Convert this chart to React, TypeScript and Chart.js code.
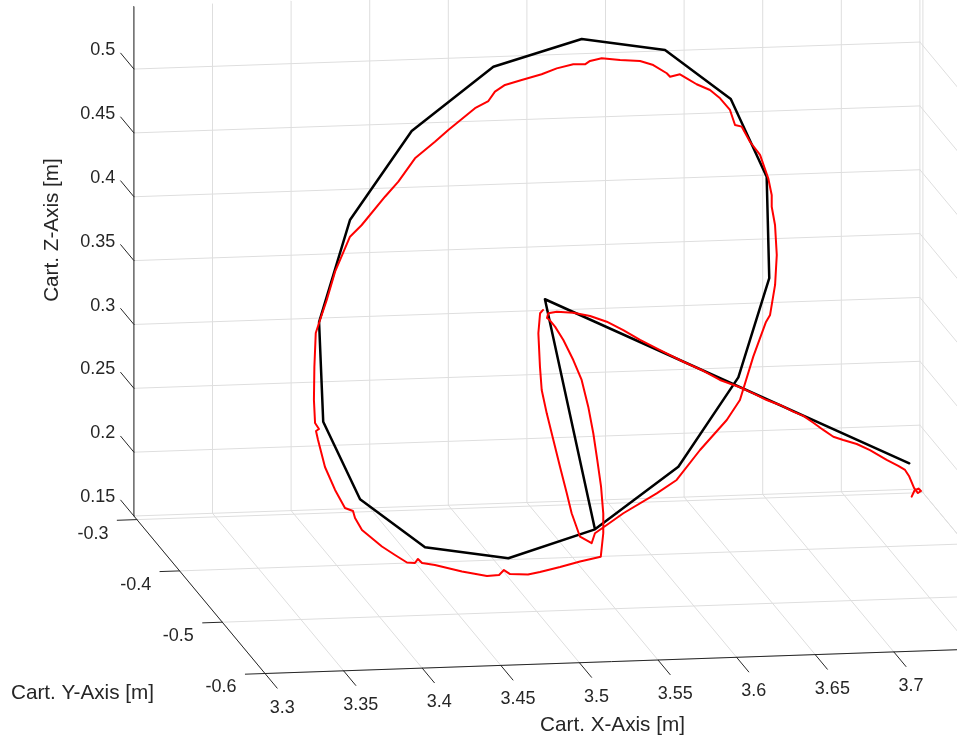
import React, { useEffect, useRef } from "react";
import { Chart, registerables } from "chart.js";

Chart.register(...registerables);

// ---- Axis limits and ticks (data units, metres) ----
const X_LIMITS = [3.3, 3.8];
const Y_LIMITS = [-0.6, -0.293];
const Z_LIMITS = [0.15, 0.549];

const X_TICKS = [3.3, 3.35, 3.4, 3.45, 3.5, 3.55, 3.6, 3.65, 3.7, 3.75, 3.8];
const X_TICK_LABELS = ["3.3", "3.35", "3.4", "3.45", "3.5", "3.55", "3.6", "3.65", "3.7", "3.75", "3.8"];
const Y_TICKS = [-0.6, -0.5, -0.4, -0.3];
const Y_TICK_LABELS = ["-0.6", "-0.5", "-0.4", "-0.3"];
const Z_TICKS = [0.15, 0.2, 0.25, 0.3, 0.35, 0.4, 0.45, 0.5];
const Z_TICK_LABELS = ["0.15", "0.2", "0.25", "0.3", "0.35", "0.4", "0.45", "0.5"];

const X_TITLE = "Cart. X-Axis [m]";
const Y_TITLE = "Cart. Y-Axis [m]";
const Z_TITLE = "Cart. Z-Axis [m]";

// ---- Reference path (black) ----
const REF_X = [3.7506, 3.5324, 3.5452, 3.4874, 3.4371, 3.3985, 3.3805, 3.3860, 3.4138, 3.4585, 3.5159, 3.5748, 3.6278, 3.6642, 3.6816, 3.6751, 3.6500, 3.6037, 3.5452, 3.5324];
const REF_Y = [-0.45, -0.40, -0.47, -0.48, -0.47, -0.46, -0.44, -0.41, -0.38, -0.36, -0.34, -0.33, -0.33, -0.35, -0.37, -0.40, -0.42, -0.45, -0.47, -0.40];
const REF_Z = [0.2353, 0.3529, 0.2003, 0.1841, 0.1908, 0.2260, 0.2795, 0.3453, 0.4119, 0.4717, 0.5116, 0.5268, 0.5159, 0.4841, 0.4305, 0.3635, 0.2948, 0.2388, 0.2003, 0.3529];

// ---- Measured path (red) ----
const MEAS_X = [
  3.7494, 3.7512, 3.7537, 3.7553, 3.7534, 3.7509, 3.7504, 3.7479, 3.7436, 3.7362,
  3.7283, 3.7199, 3.7113, 3.7050, 3.6986, 3.6923, 3.6859, 3.6822, 3.6738, 3.6653,
  3.6568, 3.6483, 3.6356, 3.6277, 3.6150, 3.6002, 3.5902, 3.5795, 3.5690, 3.5584,
  3.5477, 3.5372, 3.5318, 3.5310, 3.5323, 3.5361, 3.5414, 3.5450, 3.5476, 3.5518,
  3.5523, 3.5521, 3.5518, 3.5532, 3.5505, 3.5489, 3.5330, 3.5203, 3.5075, 3.4999,
  3.4885, 3.4846, 3.4815, 3.4738, 3.4579, 3.4407, 3.4325, 3.4299, 3.4280, 3.4229,
  3.4180, 3.4097, 3.3970, 3.3953, 3.3940, 3.3889, 3.3826, 3.3789, 3.3772, 3.3759,
  3.3778, 3.3753, 3.3773, 3.3803, 3.3839, 3.3866, 3.3936, 3.3989, 3.4111, 3.4213,
  3.4388, 3.4473, 3.4606, 3.4733, 3.4818, 3.5015, 3.5100, 3.5169, 3.5233, 3.5339,
  3.5466, 3.5562, 3.5667, 3.5742, 3.5774, 3.5848, 3.5965, 3.6092, 3.6176, 3.6262,
  3.6283, 3.6346, 3.6389, 3.6452, 3.6537, 3.6574, 3.6637, 3.6669, 3.6712, 3.6737,
  3.6801, 3.6826, 3.6848, 3.6821, 3.6842, 3.6826, 3.6788, 3.6729, 3.6703, 3.6595,
  3.6483, 3.6372, 3.6202, 3.6026, 3.5872, 3.5660, 3.5527, 3.5452, 3.5431, 3.5357,
  3.5331, 3.5300, 3.5284, 3.5269, 3.5254, 3.5222, 3.5238, 3.5255, 3.5266, 3.5285,
];
const MEAS_Y = [
  -0.46, -0.46, -0.46, -0.46, -0.46, -0.46, -0.45, -0.45, -0.45, -0.45,
  -0.44, -0.44, -0.44, -0.44, -0.44, -0.44, -0.44, -0.43, -0.43, -0.43,
  -0.43, -0.43, -0.43, -0.42, -0.42, -0.42, -0.41, -0.41, -0.41, -0.41,
  -0.41, -0.41, -0.41, -0.41, -0.41, -0.41, -0.41, -0.42, -0.43, -0.43,
  -0.44, -0.45, -0.46, -0.46, -0.47, -0.47, -0.48, -0.48, -0.48, -0.48,
  -0.48, -0.48, -0.48, -0.48, -0.48, -0.48, -0.48, -0.48, -0.48, -0.48,
  -0.47, -0.47, -0.47, -0.46, -0.46, -0.46, -0.46, -0.45, -0.44, -0.44,
  -0.44, -0.44, -0.43, -0.42, -0.41, -0.41, -0.40, -0.40, -0.39, -0.38,
  -0.37, -0.37, -0.36, -0.36, -0.36, -0.35, -0.35, -0.34, -0.34, -0.34,
  -0.34, -0.34, -0.34, -0.34, -0.34, -0.34, -0.34, -0.34, -0.34, -0.34,
  -0.34, -0.34, -0.34, -0.34, -0.34, -0.35, -0.35, -0.35, -0.35, -0.36,
  -0.36, -0.37, -0.37, -0.38, -0.38, -0.39, -0.40, -0.41, -0.41, -0.42,
  -0.43, -0.44, -0.44, -0.45, -0.46, -0.46, -0.47, -0.47, -0.47, -0.47,
  -0.46, -0.46, -0.45, -0.44, -0.43, -0.43, -0.42, -0.41, -0.41, -0.41,
];
const MEAS_Z = [
  0.2132, 0.2180, 0.2194, 0.2174, 0.2159, 0.2200, 0.2254, 0.2302, 0.2335, 0.2385,
  0.2426, 0.2477, 0.2512, 0.2540, 0.2596, 0.2655, 0.2711, 0.2706, 0.2762, 0.2804,
  0.2860, 0.2911, 0.2974, 0.3009, 0.3085, 0.3183, 0.3226, 0.3308, 0.3378, 0.3427,
  0.3457, 0.3470, 0.3459, 0.3423, 0.3411, 0.3353, 0.3246, 0.3128, 0.3011, 0.2800,
  0.2632, 0.2463, 0.2294, 0.2085, 0.1970, 0.1787, 0.1797, 0.1759, 0.1725, 0.1709,
  0.1717, 0.1750, 0.1713, 0.1708, 0.1750, 0.1808, 0.1827, 0.1860, 0.1829, 0.1835,
  0.1856, 0.1926, 0.2060, 0.2115, 0.2170, 0.2196, 0.2340, 0.2481, 0.2653, 0.2724,
  0.2739, 0.2787, 0.2926, 0.3143, 0.3368, 0.3468, 0.3582, 0.3801, 0.4030, 0.4077,
  0.4251, 0.4365, 0.4502, 0.4627, 0.4715, 0.4837, 0.4890, 0.4920, 0.4970, 0.5004,
  0.5044, 0.5086, 0.5113, 0.5110, 0.5135, 0.5153, 0.5134, 0.5121, 0.5086, 0.5018,
  0.4990, 0.5006, 0.4973, 0.4924, 0.4875, 0.4849, 0.4755, 0.4636, 0.4621, 0.4542,
  0.4436, 0.4292, 0.4160, 0.4110, 0.3966, 0.3772, 0.3579, 0.3387, 0.3333, 0.3106,
  0.2812, 0.2700, 0.2472, 0.2285, 0.2227, 0.2080, 0.2034, 0.1972, 0.1895, 0.1949,
  0.2094, 0.2251, 0.2420, 0.2590, 0.2759, 0.2943, 0.3085, 0.3306, 0.3462, 0.3487,
];

// ---- Orthographic view (MATLAB-like 3-D view) ----
const CANVAS_W = 957;
const CANVAS_H = 740;
const VIEW_ORIGIN = [265, 673.5]; // image of (xmin, ymin, zmin)
const VIEW_EX = [1572, -54]; // per metre of x
const VIEW_EY = [-427, -513]; // per metre of y
const VIEW_EZ = [0, -1277]; // per metre of z

type P2 = { x: number; y: number };
function project(x: number, y: number, z: number): P2 {
  const dx = x - X_LIMITS[0];
  const dy = y - Y_LIMITS[0];
  const dz = z - Z_LIMITS[0];
  return {
    x: VIEW_ORIGIN[0] + dx * VIEW_EX[0] + dy * VIEW_EY[0] + dz * VIEW_EZ[0],
    y: VIEW_ORIGIN[1] + dx * VIEW_EX[1] + dy * VIEW_EY[1] + dz * VIEW_EZ[1],
  };
}

const FONT = '"Liberation Sans", Arial, Helvetica, sans-serif';
const TEXT_COLOR = "#262626";
const AXIS_COLOR = "#262626";
const GRID_COLOR = "#dedede";

function buildDatasets() {
  const [x0, x1] = X_LIMITS;
  const [y0, y1] = Y_LIMITS;
  const [z0, z1] = Z_LIMITS;
  const ds: any[] = [];
  const line = (pts: P2[], color: string, width: number, order: number) =>
    ds.push({
      data: pts,
      borderColor: color,
      backgroundColor: color,
      borderWidth: width,
      showLine: true,
      pointRadius: 0,
      pointHoverRadius: 0,
      fill: false,
      tension: 0,
      borderJoinStyle: "round",
      borderCapStyle: "round",
      order,
    });

  // grid: back wall (y = ymax)
  Z_TICKS.forEach((z) => line([project(x0, y1, z), project(x1, y1, z)], GRID_COLOR, 1, 5));
  X_TICKS.forEach((x) => line([project(x, y1, z0), project(x, y1, z1)], GRID_COLOR, 1, 5));
  // grid: floor (z = zmin)
  X_TICKS.forEach((x) => line([project(x, y0, z0), project(x, y1, z0)], GRID_COLOR, 1, 5));
  Y_TICKS.forEach((y) => line([project(x0, y, z0), project(x1, y, z0)], GRID_COLOR, 1, 5));
  // grid: right wall (x = xmax)
  Z_TICKS.forEach((z) => line([project(x1, y0, z), project(x1, y1, z)], GRID_COLOR, 1, 5));
  Y_TICKS.forEach((y) => line([project(x1, y, z0), project(x1, y, z1)], GRID_COLOR, 1, 5));

  // axis lines
  line([project(x0, y0, z0), project(x1, y0, z0)], AXIS_COLOR, 1, 4);
  line([project(x0, y0, z0), project(x0, y1, z0)], AXIS_COLOR, 1, 4);
  line([project(x0, y1, z0), project(x0, y1, z1)], AXIS_COLOR, 1, 4);
  // tick marks
  X_TICKS.forEach((x) => line([project(x, y0, z0), project(x, y0 - 0.0285, z0)], AXIS_COLOR, 1, 4));
  Y_TICKS.forEach((y) => line([project(x0, y, z0), project(x0 - 0.0125, y, z0)], AXIS_COLOR, 1, 4));
  Z_TICKS.forEach((z) => line([project(x0, y1, z), project(x0, y1 + 0.031, z)], AXIS_COLOR, 1, 4));

  // data
  line(REF_X.map((x, i) => project(x, REF_Y[i], REF_Z[i])), "#000000", 2.5, 1);
  line(MEAS_X.map((x, i) => project(x, MEAS_Y[i], MEAS_Z[i])), "#ff0000", 2, 0);
  return ds;
}

const textPlugin = {
  id: "axis3dText",
  afterDatasetsDraw(chart: any) {
    const ctx = chart.ctx as CanvasRenderingContext2D;
    const sx = chart.scales.x;
    const sy = chart.scales.y;
    const px = (p: P2) => ({ x: sx.getPixelForValue(p.x), y: sy.getPixelForValue(p.y) });
    const [x0] = X_LIMITS;
    const [y0, y1] = Y_LIMITS;
    const [z0] = Z_LIMITS;
    ctx.save();
    ctx.fillStyle = TEXT_COLOR;
    ctx.font = `18px ${FONT}`;
    ctx.textBaseline = "middle";

    ctx.textAlign = "center";
    X_TICKS.forEach((x, i) => {
      const e = px(project(x, y0 - 0.0285, z0));
      ctx.fillText(X_TICK_LABELS[i], e.x + 5, e.y + 19.5);
    });
    ctx.textAlign = "right";
    Y_TICKS.forEach((y, i) => {
      const e = px(project(x0 - 0.0125, y, z0));
      ctx.fillText(Y_TICK_LABELS[i], e.x - 8.8, e.y + 13.3);
    });
    Z_TICKS.forEach((z, i) => {
      const e = px(project(x0, y1 + 0.031, z));
      ctx.fillText(Z_TICK_LABELS[i], e.x - 5.5, e.y - 3);
    });

    ctx.font = `20.7px ${FONT}`;
    ctx.textAlign = "center";
    ctx.fillText(X_TITLE, sx.getPixelForValue(612.5), sy.getPixelForValue(725));
    ctx.fillText(Y_TITLE, sx.getPixelForValue(82.5), sy.getPixelForValue(693));
    ctx.translate(sx.getPixelForValue(52), sy.getPixelForValue(230));
    ctx.rotate(-Math.PI / 2);
    ctx.fillText(Z_TITLE, 0, 0);
    ctx.restore();
  },
};

export default function App() {
  const canvasRef = useRef<HTMLCanvasElement | null>(null);
  useEffect(() => {
    document.body.style.margin = "0";
    const canvas = canvasRef.current;
    if (!canvas) return;
    const chart = new Chart(canvas, {
      type: "scatter",
      data: { datasets: buildDatasets() },
      options: {
        animation: false,
        responsive: false,
        maintainAspectRatio: false,
        devicePixelRatio: 1,
        events: [],
        layout: { padding: 0 },
        plugins: { legend: { display: false }, tooltip: { enabled: false }, title: { display: false } },
        scales: {
          x: { type: "linear", min: 0, max: CANVAS_W, display: false },
          y: { type: "linear", min: 0, max: CANVAS_H, reverse: true, display: false },
        },
      },
      plugins: [textPlugin],
    } as any);
    return () => chart.destroy();
  }, []);
  return (
    <div style={{ position: "relative", width: CANVAS_W, height: CANVAS_H, overflow: "hidden", background: "#fff" }}>
      <canvas ref={canvasRef} width={CANVAS_W} height={CANVAS_H} style={{ display: "block" }} />
    </div>
  );
}
